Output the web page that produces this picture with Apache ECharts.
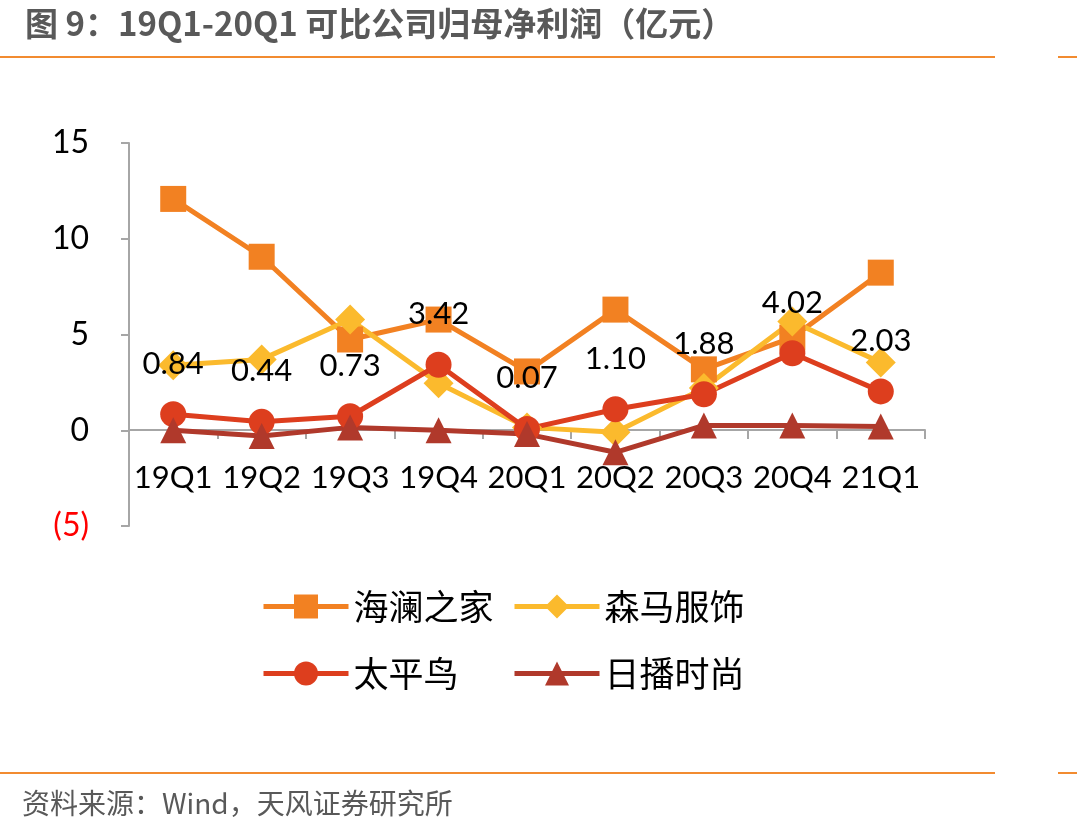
<!DOCTYPE html>
<html lang="zh-CN">
<head>
  <meta charset="UTF-8">
  <title>可比公司归母净利润</title>
  <script src="https://cdn.jsdelivr.net/npm/echarts@6/dist/echarts.min.js"></script>
  <style>
    html, body { margin: 0; padding: 0; background: #fff; }
    #chart { width: 1077px; height: 836px; }
  </style>
</head>
<body>
  <div id="chart"></div>
  <script>
    // 季度
    var quarters = ['19Q1', '19Q2', '19Q3', '19Q4', '20Q1', '20Q2', '20Q3', '20Q4', '21Q1'];
    // 各公司归母净利润（亿元）
    var hailan = [12.08, 9.06, 4.74, 5.78, 3.07, 6.30, 3.18, 4.84, 8.23];
    var semir = [3.39, 3.70, 5.78, 2.45, 0.15, -0.10, 2.20, 5.68, 3.54];
    var peacebird = [0.84, 0.44, 0.73, 3.42, 0.07, 1.10, 1.88, 4.02, 2.03];
    var ribo = [0.00, -0.30, 0.15, 0.00, -0.20, -1.15, 0.25, 0.25, 0.20];
    var yTicks = [-5, 0, 5, 10, 15];

    var numFont = 'Lato, "Noto Sans CJK SC", sans-serif';
    var cjkFont = '"Noto Sans CJK SC", sans-serif';

    function lineSeries(name, data, color, symbol, size) {
      return {
        name: name,
        type: 'line',
        data: data,
        symbol: symbol,
        symbolSize: size,
        showAllSymbol: true,
        lineStyle: { color: color, width: 5 },
        itemStyle: { color: color },
        emphasis: { disabled: true }
      };
    }

    var chart = echarts.init(document.getElementById('chart'));
    var taipingniao = lineSeries('太平鸟', peacebird, '#DD3E1E', 'circle', 26);
    taipingniao.label = {
      show: true,
      position: 'top',
      distance: 22,
      color: '#000',
      fontSize: 31,
      fontFamily: numFont,
      formatter: function (p) { return p.value.toFixed(2); }
    };

    // 图例：两列
    var legendBase = {
      orient: 'vertical',
      top: 584,
      itemWidth: 85, itemHeight: 30, itemGap: 32,
      lineStyle: { width: 5 },
      textStyle: { fontSize: 35, color: '#000', fontFamily: cjkFont }
    };

    var option = {
      animation: false,
      title: {
        text: '图 9：19Q1-20Q1 可比公司归母净利润（亿元）',
        left: 20,
        top: 2,
        textStyle: { fontSize: 33, fontWeight: 'bold', color: '#595959', fontFamily: cjkFont }
      },
      graphic: [
        { type: 'rect', shape: { x: 0, y: 56, width: 995, height: 2 }, style: { fill: '#F28B30' } },
        { type: 'rect', shape: { x: 1058, y: 56, width: 19, height: 2 }, style: { fill: '#F28B30' } },
        { type: 'rect', shape: { x: 0, y: 772, width: 995, height: 2 }, style: { fill: '#F28B30' } },
        { type: 'rect', shape: { x: 1058, y: 772, width: 19, height: 2 }, style: { fill: '#F28B30' } },
        {
          type: 'text', left: 22, top: 789,
          style: { text: '资料来源：Wind，天风证券研究所', fontSize: 28, fill: '#595959', fontFamily: cjkFont }
        }
      ],
      legend: [
        Object.assign({ data: ['海澜之家', '太平鸟'], left: 256 }, legendBase),
        Object.assign({ data: ['森马服饰', '日播时尚'], left: 507 }, legendBase)
      ],
      grid: { left: 129, right: 152, top: 143, bottom: 310, containLabel: false },
      xAxis: {
        type: 'category',
        data: quarters,
        boundaryGap: true,
        offset: -96,
        axisLine: { onZero: false, lineStyle: { color: '#A6A6A6', width: 2 } },
        axisTick: { show: true, interval: 0, length: 9, lineStyle: { color: '#A6A6A6', width: 2 } },
        axisLabel: { interval: 0, margin: 33, fontSize: 31, color: '#000', fontFamily: numFont },
        splitLine: { show: false }
      },
      yAxis: {
        type: 'value',
        min: yTicks[0],
        max: yTicks[yTicks.length - 1],
        interval: 5,
        axisLine: { show: true, lineStyle: { color: '#A6A6A6', width: 2 } },
        axisTick: { show: true, length: 8, lineStyle: { color: '#A6A6A6', width: 2 } },
        axisLabel: {
          margin: 40,
          fontSize: 32,
          color: '#000',
          fontFamily: numFont,
          formatter: function (v) { return v < 0 ? '{neg|(' + Math.abs(v) + ')}' : String(v); },
          rich: { neg: { color: '#FF0000', fontSize: 32, fontFamily: numFont } }
        },
        splitLine: { show: false }
      },
      series: [
        lineSeries('海澜之家', hailan, '#F28122', 'rect', 26),
        lineSeries('森马服饰', semir, '#FBBA2D', 'diamond', 30),
        taipingniao,
        lineSeries('日播时尚', ribo, '#B0392B', 'triangle', 26)
      ]
    };
    chart.setOption(option);
  </script>
</body>
</html>
